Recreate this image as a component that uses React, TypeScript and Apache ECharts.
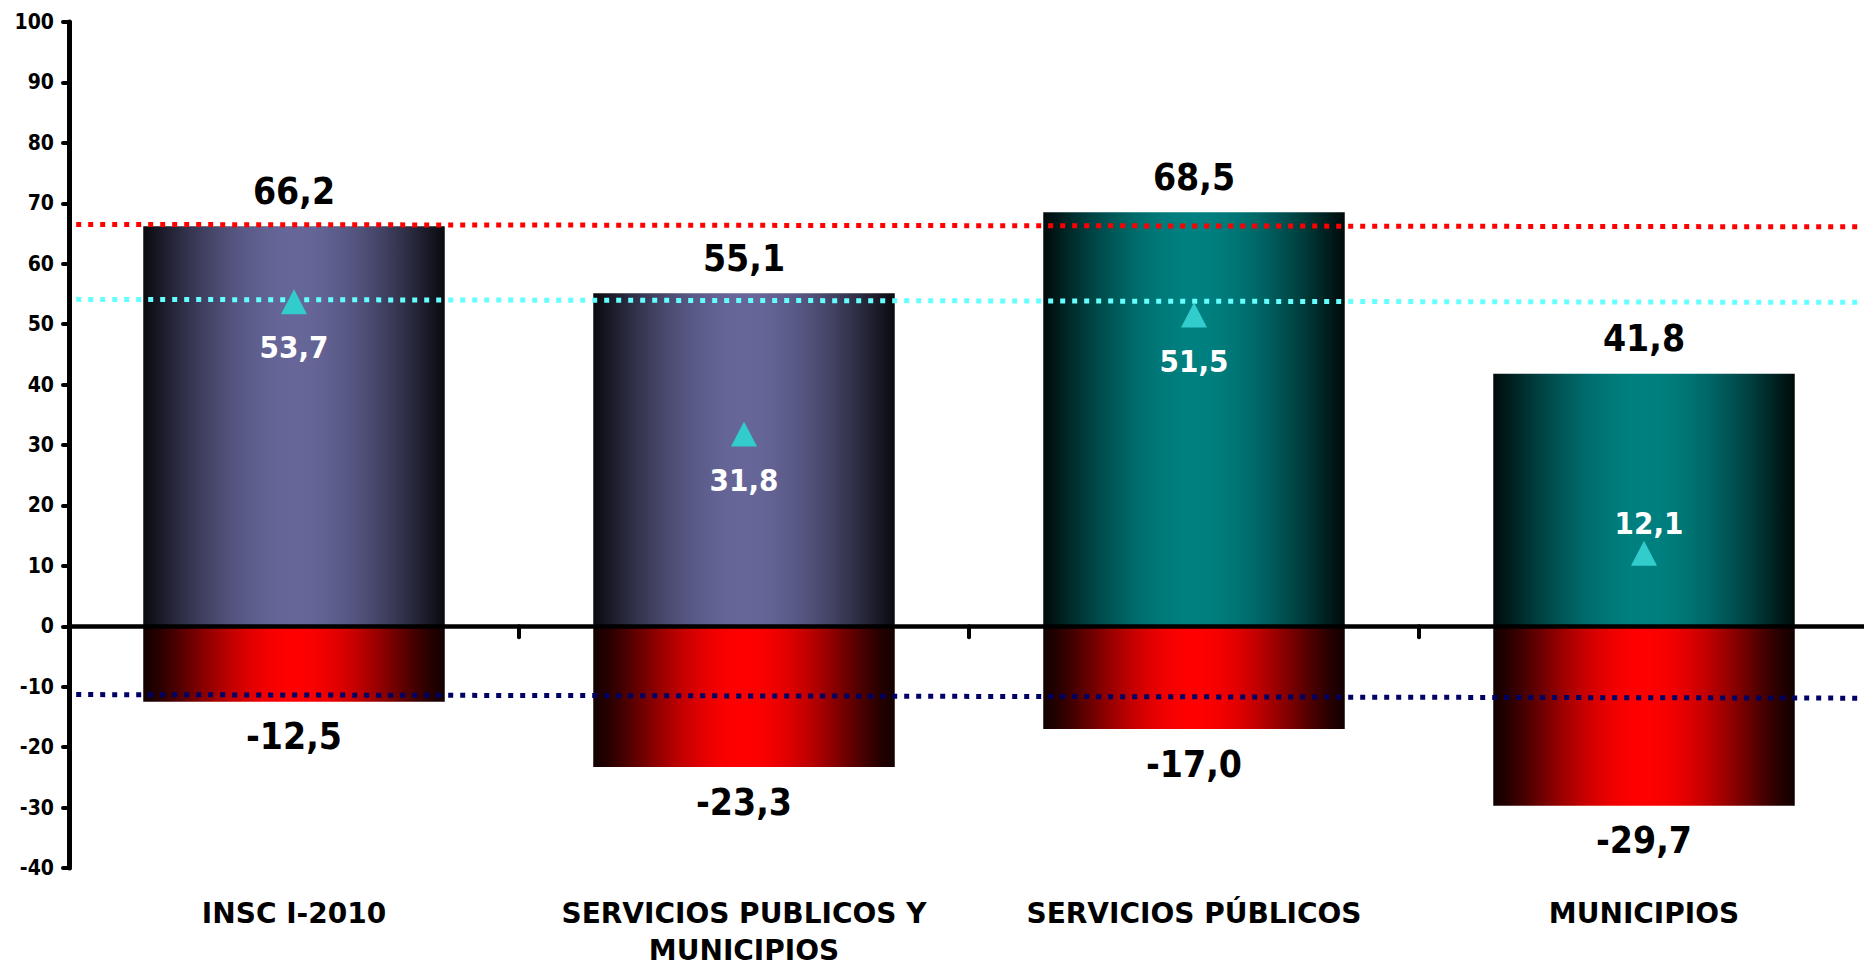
import React, { useEffect, useRef } from "react";
import * as echarts from "echarts";

const categories = [
  "INSC I-2010",
  "SERVICIOS PUBLICOS Y\nMUNICIPIOS",
  "SERVICIOS PÚBLICOS",
  "MUNICIPIOS",
];
const positiveValues = [66.2, 55.1, 68.5, 41.8];
const negativeValues = [-12.5, -23.3, -17.0, -29.7];
const triangleValues = [53.7, 31.8, 51.5, 12.1];
const redLine = [66.5, 66.1];
const cyanLine = [54.1, 53.6];
const navyLine = [-11.3, -11.9];
const yMin = -40;
const yMax = 100;
const yStep = 10;

const NUM_FONT = "'DejaVu Sans Condensed', 'DejaVu Sans', sans-serif";
const TXT_FONT = "'DejaVu Sans', sans-serif";

const fmt = (v: number) => v.toFixed(1).replace(".", ",");

const hex = (c: string) => [1, 3, 5].map((k) => parseInt(c.slice(k, k + 2), 16));
const mix = (a: string, b: string, f: number) => {
  const A = hex(a);
  const B = hex(b);
  return (
    "rgb(" +
    A.map((x, i) => Math.round(x + (B[i] - x) * f)).join(",") +
    ")"
  );
};

// horizontal "from centre" shading: dark edges, full colour in the middle
const grad = (dark: string, light: string, power = 1) => {
  const stops = [];
  for (let k = 0; k <= 20; k++) {
    const t = k / 20;
    const f = Math.pow(Math.sin(Math.PI * t), power);
    stops.push({ offset: t, color: mix(dark, light, f) });
  }
  return new echarts.graphic.LinearGradient(0, 0, 1, 0, stops);
};

export default function App() {
  const ref = useRef<HTMLDivElement>(null);

  useEffect(() => {
    if (!ref.current) return;
    const chart = echarts.init(ref.current, undefined, { renderer: "svg" });
    const topColors = [
      grad("#0a0a10", "#666699"),
      grad("#0a0a10", "#666699"),
      grad("#000a0a", "#008080"),
      grad("#000a0a", "#008080"),
    ];
    const redGrad = grad("#120000", "#ff0000", 1.3);

    const refLine = (vals: number[], color: string) => ({
      type: "line",
      xAxisIndex: 2,
      yAxisIndex: 0,
      data: [
        [0.004, vals[0]],
        [1, vals[1]],
      ],
      symbol: "none",
      silent: true,
      z: 4,
      lineStyle: { color, width: 5, type: [5, 7], cap: "butt" },
    });

    chart.setOption({
      animation: false,
      grid: { left: 69, top: 22, width: 1800, height: 851, containLabel: false },
      xAxis: [
        {
          type: "category",
          data: categories,
          position: "bottom",
          axisLine: { show: false, onZero: false },
          axisTick: { show: false },
          axisLabel: {
            interval: 0,
            color: "#000",
            fontFamily: TXT_FONT,
            fontWeight: "bold",
            fontSize: 28,
            lineHeight: 37,
            margin: 27,
          },
        },
        {
          type: "category",
          data: categories,
          position: "top",
          z: 10,
          axisLine: { show: true, onZero: true, lineStyle: { color: "#000", width: 4.5 } },
          axisTick: {
            show: true,
            inside: true,
            length: 11,
            lineStyle: { color: "#000", width: 4, cap: "round" },
          },
          axisLabel: { show: false },
        },
        {
          type: "value",
          min: 0,
          max: 1,
          show: false,
        },
      ],
      yAxis: {
        type: "value",
        min: yMin,
        max: yMax,
        interval: yStep,
        z: 10,
        splitLine: { show: false },
        axisLine: { show: true, lineStyle: { color: "#000", width: 5 } },
        axisTick: { show: true, length: 6, lineStyle: { color: "#000", width: 4, cap: "round" } },
        axisLabel: {
          color: "#000",
          fontFamily: NUM_FONT,
          fontWeight: "bold",
          fontSize: 21,
          margin: 15,
        },
      },
      series: [
        {
          type: "bar",
          xAxisIndex: 0,
          barWidth: "67%",
          barGap: "-100%",
          z: 2,
          data: positiveValues.map((v, i) => ({ value: v, itemStyle: { color: topColors[i] } })),
          label: {
            show: true,
            position: "top",
            distance: 15,
            color: "#000",
            fontFamily: NUM_FONT,
            fontWeight: "bold",
            fontSize: 37,
            lineHeight: 40,
            formatter: (p: any) => fmt(p.value),
          },
        },
        {
          type: "bar",
          xAxisIndex: 0,
          barWidth: "67%",
          barGap: "-100%",
          z: 2,
          data: negativeValues.map((v) => ({ value: v, itemStyle: { color: redGrad } })),
          label: {
            show: true,
            position: "bottom",
            distance: 15,
            color: "#000",
            fontFamily: NUM_FONT,
            fontWeight: "bold",
            fontSize: 37,
            lineHeight: 40,
            formatter: (p: any) => fmt(p.value),
          },
        },
        refLine(redLine, "#ff0000"),
        refLine(cyanLine, "#66ffff"),
        refLine(navyLine, "#000066"),
        {
          type: "scatter",
          xAxisIndex: 0,
          symbol: "triangle",
          symbolSize: [26, 25],
          z: 6,
          itemStyle: { color: "#33cccc", opacity: 1 },
          data: triangleValues.map((v, i) => ({
            value: v,
            label:
              i === 3
                ? { position: "top", distance: 1, offset: [5, 0] }
                : { position: "bottom", distance: 16 },
          })),
          label: {
            show: true,
            color: "#fff",
            fontFamily: NUM_FONT,
            fontWeight: "bold",
            fontSize: 31,
            lineHeight: 34,
            formatter: (p: any) => fmt(p.value),
          },
        },
      ],
    });
    return () => chart.dispose();
  }, []);

  return (
    <div
      style={{
        position: "fixed",
        left: 0,
        top: 0,
        width: 1864,
        height: 969,
        overflow: "hidden",
        background: "#fff",
      }}
    >
      <div ref={ref} style={{ width: 1880, height: 969 }} />
    </div>
  );
}
